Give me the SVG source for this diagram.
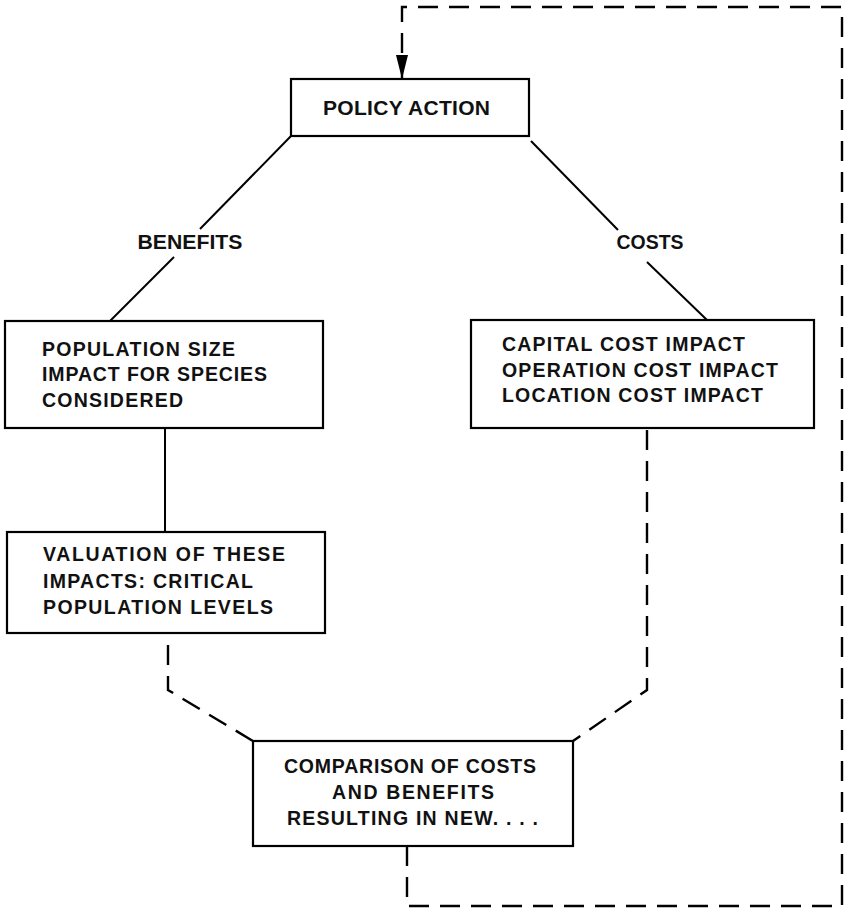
<svg xmlns="http://www.w3.org/2000/svg" width="845" height="912" viewBox="0 0 845 912">
<style>
.box{fill:#fff;stroke:#000;stroke-width:2.2}
.t{font-family:"Liberation Sans",Arial,sans-serif;font-weight:bold;font-size:19.5px;fill:#111}
.solid{fill:none;stroke:#000;stroke-width:2}
.dash{fill:none;stroke:#000;stroke-width:2.4;stroke-dasharray:20 11}
</style>
<defs>
<marker id="arr" viewBox="0 0 24 12" refX="24" refY="6" markerWidth="24" markerHeight="12" markerUnits="userSpaceOnUse" orient="auto">
<path d="M0,0 L24,6 L0,12 z" fill="#000"/>
</marker>
</defs>
<rect width="845" height="912" fill="#fff"/>
<g id="connectors">
<line class="solid" x1="291" y1="136" x2="200" y2="229"/>
<line class="solid" x1="174" y1="257" x2="110" y2="321"/>
<line class="solid" x1="531" y1="141" x2="618" y2="230"/>
<line class="solid" x1="647" y1="262" x2="707" y2="320"/>
<line class="solid" x1="165" y1="428" x2="165" y2="532"/>
<path class="dash" d="M168,645 L168,690 L253,741"/>
<path class="dash" d="M647,430 L647,690 L573,741"/>
<path class="dash" d="M407,846 L407,906 L842,906 L842,7 L402,7 L402,79" marker-end="url(#arr)"/>
<text class="t" x="190" y="249" text-anchor="middle" textLength="105" lengthAdjust="spacingAndGlyphs">BENEFITS</text>
<text class="t" x="650" y="249" text-anchor="middle" textLength="67" lengthAdjust="spacingAndGlyphs">COSTS</text>
</g>
<g id="policy">
<rect class="box" x="291" y="79" width="238" height="57"/>
<text class="t" x="323" y="115" style="font-size:21px" textLength="167" lengthAdjust="spacing">POLICY ACTION</text>
</g>
<g id="population">
<rect class="box" x="5" y="321" width="318" height="107"/>
<text class="t" x="42" y="356" textLength="193" lengthAdjust="spacing">POPULATION SIZE</text>
<text class="t" x="42" y="381" textLength="225" lengthAdjust="spacing">IMPACT FOR SPECIES</text>
<text class="t" x="42" y="407" textLength="141" lengthAdjust="spacing">CONSIDERED</text>
</g>
<g id="valuation">
<rect class="box" x="7" y="532" width="318" height="101"/>
<text class="t" x="43" y="561" textLength="242" lengthAdjust="spacing">VALUATION OF THESE</text>
<text class="t" x="43" y="588" textLength="210" lengthAdjust="spacing">IMPACTS: CRITICAL</text>
<text class="t" x="43" y="614" textLength="230" lengthAdjust="spacing">POPULATION LEVELS</text>
</g>
<g id="costs">
<rect class="box" x="471" y="320" width="343" height="108"/>
<text class="t" x="502" y="351" textLength="243" lengthAdjust="spacing">CAPITAL COST IMPACT</text>
<text class="t" x="502" y="377" textLength="276" lengthAdjust="spacing">OPERATION COST IMPACT</text>
<text class="t" x="502" y="402" textLength="261" lengthAdjust="spacing">LOCATION COST IMPACT</text>
</g>
<g id="comparison">
<rect class="box" x="253" y="741" width="320" height="105"/>
<text class="t" x="284" y="773" textLength="252" lengthAdjust="spacing">COMPARISON OF COSTS</text>
<text class="t" x="332" y="799" textLength="162" lengthAdjust="spacing">AND BENEFITS</text>
<text class="t" x="287" y="825" textLength="251" lengthAdjust="spacing">RESULTING IN NEW. . . .</text>
</g>
</svg>
